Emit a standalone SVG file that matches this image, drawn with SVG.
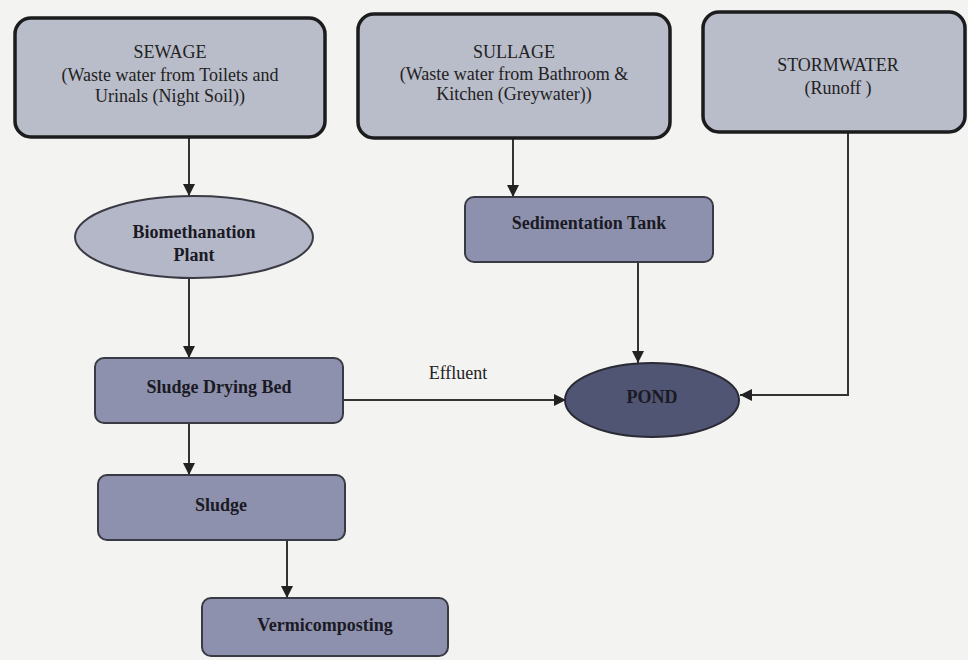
<svg xmlns="http://www.w3.org/2000/svg" width="968" height="660" viewBox="0 0 968 660">
<style>
.top{fill:#b9bcc9;stroke:#1c1c1e;stroke-width:3.5}
.mid{fill:#8e91ad;stroke:#3a3a44;stroke-width:2}
.bio{fill:#b4b7c8;stroke:#3a3a44;stroke-width:2}
.pond{fill:#4f5573;stroke:#2a2a34;stroke-width:2}
.t{font-family:"Liberation Serif","Times New Roman",serif;font-size:18px;fill:#222;text-anchor:middle}
.b{font-family:"Liberation Serif","Times New Roman",serif;font-size:18px;font-weight:bold;fill:#1a1a24;text-anchor:middle}
.c{fill:none;stroke:#333;stroke-width:2}
</style>
<defs>
<marker id="ah" markerUnits="userSpaceOnUse" markerWidth="12" markerHeight="12" viewBox="0 0 10 10" refX="10" refY="5" orient="auto">
<path d="M0,0 L10,5 L0,10 z" fill="#222"/>
</marker>
</defs>
<rect x="0" y="0" width="968" height="660" fill="#f3f3f1"/>
<g id="connectors">
<path class="c" d="M189 137 V196" marker-end="url(#ah)"/>
<path class="c" d="M513 138 V197" marker-end="url(#ah)"/>
<path class="c" d="M189 278 V358" marker-end="url(#ah)"/>
<path class="c" d="M638 262 V363" marker-end="url(#ah)"/>
<path class="c" d="M343 400 H566" marker-end="url(#ah)"/>
<path class="c" d="M848 132 V395 H740" marker-end="url(#ah)"/>
<path class="c" d="M189 423 V475" marker-end="url(#ah)"/>
<path class="c" d="M287 540 V598" marker-end="url(#ah)"/>
<text class="t" x="458" y="379">Effluent</text>
</g>
<g id="sewage">
<rect class="top" x="15" y="18" width="310" height="119" rx="16"/>
<text class="t" x="170" y="58">SEWAGE</text>
<text class="t" x="170" y="81">(Waste water from Toilets and</text>
<text class="t" x="170" y="102">Urinals (Night Soil))</text>
</g>
<g id="sullage">
<rect class="top" x="358" y="14" width="312" height="124" rx="16"/>
<text class="t" x="514" y="58">SULLAGE</text>
<text class="t" x="514" y="80">(Waste water from Bathroom &amp;</text>
<text class="t" x="514" y="100">Kitchen (Greywater))</text>
</g>
<g id="stormwater">
<rect class="top" x="703" y="12" width="262" height="120" rx="16"/>
<text class="t" x="838" y="71">STORMWATER</text>
<text class="t" x="838" y="94">(Runoff )</text>
</g>
<g id="biomethanation">
<ellipse class="bio" cx="194" cy="237" rx="119" ry="41"/>
<text class="b" x="194" y="238">Biomethanation</text>
<text class="b" x="194" y="261">Plant</text>
</g>
<g id="sedimentation">
<rect class="mid" x="465" y="197" width="248" height="65" rx="9"/>
<text class="b" x="589" y="229">Sedimentation Tank</text>
</g>
<g id="drying-bed">
<rect class="mid" x="95" y="358" width="248" height="65" rx="9"/>
<text class="b" x="219" y="393">Sludge Drying Bed</text>
</g>
<g id="pond">
<ellipse class="pond" cx="652" cy="400" rx="87" ry="37"/>
<text class="b" x="652" y="403">POND</text>
</g>
<g id="sludge">
<rect class="mid" x="98" y="475" width="247" height="65" rx="9"/>
<text class="b" x="221" y="511">Sludge</text>
</g>
<g id="vermicomposting">
<rect class="mid" x="202" y="598" width="246" height="58" rx="9"/>
<text class="b" x="325" y="631">Vermicomposting</text>
</g>
</svg>
